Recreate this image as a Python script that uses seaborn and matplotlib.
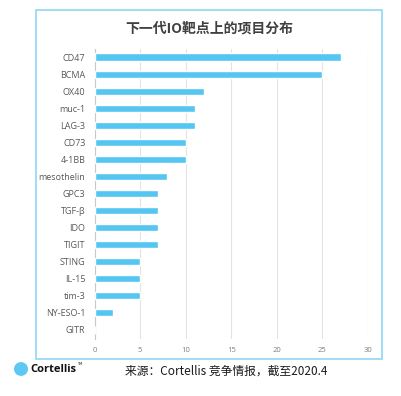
import matplotlib
matplotlib.use("Agg")
import matplotlib.pyplot as plt
import seaborn as sns
import pandas as pd
from matplotlib.patches import Rectangle, Circle

targets = ["CD47", "BCMA", "OX40", "muc-1", "LAG-3", "CD73", "4-1BB", "mesothelin",
           "GPC3", "TGF-β", "IDO", "TIGIT", "STING", "IL-15", "tim-3", "NY-ESO-1", "GITR"]
counts = [27, 25, 12, 11, 11, 10, 10, 8, 7, 7, 7, 7, 5, 5, 5, 2, 0]
x_ticks = [0, 5, 10, 15, 20, 25, 30]
title = "下一代IO靶点上的项目分布"
source = "来源：Cortellis 竞争情报，截至2020.4"

df = pd.DataFrame({"target": targets, "count": counts})

sns.set_theme(style="white")
plt.rcParams['font.family'] = ['Noto Sans CJK SC', 'DejaVu Sans']

W, H = 401, 396
fig = plt.figure(figsize=(W / 100, H / 100), dpi=100)
ax = fig.add_axes([94.5 / W, 1 - 338.5 / H, (368 - 94.5) / W, (338.5 - 48.5) / H])

sns.barplot(data=df, y="target", x="count", orient="h", color="#55C5F2",
            saturation=1, width=0.42, ax=ax, zorder=3)

ax.set_xlim(0, 30)
ax.set_xticks(x_ticks)
ax.set_xticklabels([str(t) for t in x_ticks], fontsize=5.5, color="#7f7f7f",
                   family=['Open Sans', 'DejaVu Sans'])
ax.tick_params(axis="x", length=0, pad=6)
ax.tick_params(axis="y", length=0, pad=6.5, labelsize=6.5, labelcolor="#595959")
for lab in ax.get_yticklabels():
    lab.set_family(['Open Sans', 'DejaVu Sans'])
ax.set_xlabel("")
ax.set_ylabel("")
ax.grid(axis="x", color="#e3e3e3", linewidth=0.8, zorder=0)
ax.grid(axis="y", visible=False)
for s in ["top", "right", "bottom"]:
    ax.spines[s].set_visible(False)
ax.spines["left"].set_color("#c8c8c8")
ax.spines["left"].set_linewidth(0.8)
ax.set_facecolor("none")

# outer frame
fig.patches.append(Rectangle((36 / W, 1 - 359 / H), (382 - 36) / W, (359 - 10) / H,
                             transform=fig.transFigure, fill=False,
                             edgecolor="#8fd8f3", linewidth=1.2))

fig.text(209 / W, 1 - 28 / H, title, ha="center", va="center", fontsize=10,
         fontweight="bold", color="#404040")

# footer
fig.patches.append(Circle((21 / W, 1 - 369 / H), 7 / W, transform=fig.transFigure,
                          facecolor="#5ec8f5", edgecolor="none"))
fig.text(30 / W, 1 - 369 / H, "Cortellis", ha="left", va="center", fontsize=8,
         fontweight="bold", color="#111111", family=['Open Sans', 'DejaVu Sans'])
fig.text(77.5 / W, 1 - 364 / H, "TM", ha="left", va="center", fontsize=2.5,
         color="#111111", family=['DejaVu Sans'])
fig.text(125 / W, 1 - 371 / H, source, ha="left", va="center", fontsize=8.5,
         color="#1a1a1a")

fig.savefig("out.png", dpi=100)
